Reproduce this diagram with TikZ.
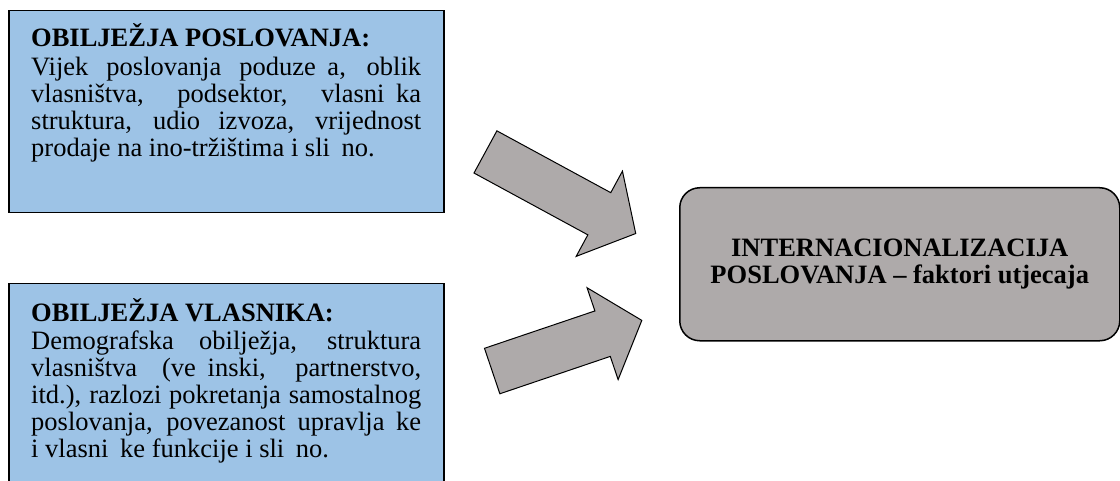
\documentclass[tikz,border=0pt]{standalone}
\usepackage{fontspec}
\setmainfont{Liberation Serif}
\usepackage{tikz}
\usetikzlibrary{shapes,arrows}

\definecolor{boxblue}{HTML}{9DC3E6}
\definecolor{boxgray}{HTML}{AEAAAA}
\newcommand{\nochar}{\hspace{.44em}}

\begin{document}
\begin{tikzpicture}[x=1pt,y=-1pt,
		every node/.style={font=\fontsize{26.5}{27}\selectfont},
		infobox/.style={draw,line width=1.5pt,fill=boxblue,minimum width=435pt,anchor=north west,inner sep=0pt},
		infotext/.style={text width=390pt,align=justify,anchor=base west,inner sep=0pt},
		bigarrow/.style={single arrow,draw,fill=boxgray,line width=1pt,inner sep=23.5pt,
			single arrow head extend=24.5pt,single arrow tip angle=99,anchor=tail}]
		\useasboundingbox (0,0) rectangle (1120,481);
		\clip (0,0) rectangle (1120,481);

		\node[infobox,minimum height=202pt] (poslovanje) at (8,10) {};
		\node[infotext] (poslovanjetxt) at (31,47) {\textbf{OBILJEŽJA POSLOVANJA:}\\[1.5pt]
			Vijek poslovanja poduze\nochar a, oblik\linebreak
			vlasništva, podsektor, vlasni\nochar ka\linebreak
			struktura, udio izvoza, vrijednost\linebreak
			prodaje na ino-tržištima i sli\nochar no.};

		\node[infobox,minimum height=230pt] (vlasnik) at (8,283) {};
		\node[infotext] (vlasniktxt) at (31,321) {\textbf{OBILJEŽJA VLASNIKA:}\\[1.5pt]
			Demografska obilježja, struktura\linebreak
			vlasništva (ve\nochar inski, partnerstvo,\linebreak
			itd.), razlozi pokretanja samostalnog\linebreak
			poslovanja, povezanost upravlja\nochar ke\linebreak
			i vlasni\nochar ke funkcije i sli\nochar no.};

		\node[bigarrow,minimum height=171pt,rotate=-28.5] (gornja) at (485,151.7) {};
		\node[bigarrow,minimum height=158pt,rotate=18.7] (donja) at (491.7,371.2) {};

		\node[draw,line width=1.5pt,fill=boxgray,rounded corners=20pt,minimum width=440pt,minimum height=153pt,
			anchor=north west,align=center,font=\fontsize{26.5}{27}\selectfont\bfseries] (faktori) at (679,187)
			{INTERNACIONALIZACIJA\\POSLOVANJA – faktori utjecaja};
	\end{tikzpicture}
\end{document}
